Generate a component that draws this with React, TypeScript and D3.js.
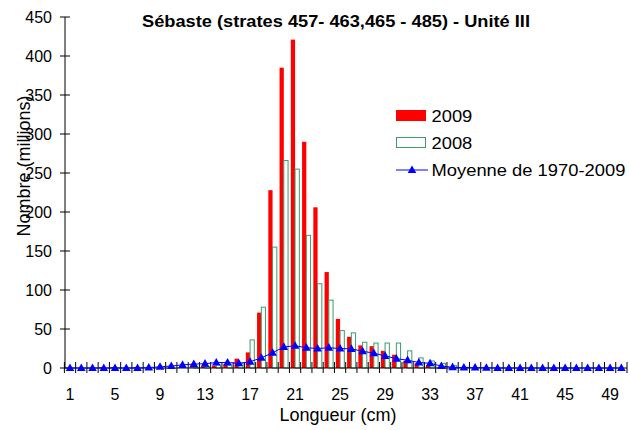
import React from "react";
import * as d3 from "d3";

const categories: number[] = d3.range(1, 51);
const tickLabels: number[] = [1, 5, 9, 13, 17, 21, 25, 29, 33, 37, 41, 45, 49];
const yTicks: number[] = [0, 50, 100, 150, 200, 250, 300, 350, 400, 450];

const values2009: number[] = [
  0, 0, 0, 1, 1, 0, 1, 0, 0, 0,
  0.5, 1, 2, 3, 5, 12, 20, 71, 228, 385,
  421, 290, 206, 123, 63, 40, 29, 28, 22, 17,
  9, 6, 3, 1, 0.5, 0, 0, 0, 0, 0,
  0, 0, 0, 0, 0, 0, 0, 0, 0, 0,
];
const values2008: number[] = [
  0, 0, 0, 0, 0, 0, 0, 0, 0, 0,
  0, 1, 2, 4, 4, 6, 36, 78, 155, 266,
  255, 170, 108, 87, 48, 45, 33, 32, 32, 32,
  22, 13, 9, 6, 3, 1, 0, 0, 0, 0,
  0, 0, 0, 0, 0, 0, 0, 0, 0, 0,
];
const average: number[] = [
  0, 0, 0, 0, 0, 0, 0, 0.5, 1.5, 2.5,
  4, 5, 5.5, 7, 7, 6, 8, 13, 19.5, 27,
  28.5, 26, 25, 26, 25, 24.5, 21.5, 19, 15.5, 12,
  10, 7, 6, 2.5, 1, 0.5, 0.5, 0.3, 0, 0,
  0, 0, 0, 0, 0, 0, 0, 0, 0, 0,
];

const seriesNames = ["2009", "2008"];
const title = "Sébaste (strates 457- 463,465 - 485) - Unité III";
const xTitle = "Longueur (cm)";
const yTitle = "Nombre (millions)";
const avgName = "Moyenne de 1970-2009";

const W = 629;
const H = 430;
const X0 = 64.4;
const X1 = 627;
const Y0 = 368;
const Y1 = 17;

const RED = "#ff0000";
const GREEN = "#3c9c6c";
const BLUE = "#0000ff";
const FONT = "Arial, 'Liberation Sans', sans-serif";

const tri = "M0,-4.6 L4.3,3 L-4.3,3 Z";

export default function App() {
  const x = d3
    .scaleBand<number>()
    .domain(categories)
    .range([X0, X1])
    .paddingInner(0.245)
    .paddingOuter(0.1225);
  const sub = d3.scaleBand<string>().domain(seriesNames).range([0, x.bandwidth()]);
  const y = d3.scaleLinear().domain([0, 450]).range([Y0, Y1]);
  const step = x.step();
  const cx = (c: number) => (x(c) as number) + x.bandwidth() / 2;

  const line = d3
    .line<number>()
    .x((_, i) => cx(categories[i]))
    .y((d) => y(d));

  const boundaries = d3.range(0, categories.length + 1).map((k) => X0 + k * step);

  return (
    <svg
      width={W}
      height={H}
      style={{ position: "absolute", left: 0, top: 0, background: "#fff" }}
      fontFamily={FONT}
    >
      <rect width={W} height={H} fill="#fff" />
      {/* title */}
      <text
        x={336}
        y={27}
        textAnchor="middle"
        fontSize={16}
        fontWeight="bold"
        textLength={388}
        lengthAdjust="spacingAndGlyphs"
      >
        {title}
      </text>

      {/* bars 2009 */}
      {categories.map((c, i) => {
        const h = Y0 - y(values2009[i]);
        if (h <= 0) return null;
        return (
          <rect
            key={"r" + c}
            x={(x(c) as number) + (sub("2009") as number)}
            y={y(values2009[i])}
            width={sub.bandwidth()}
            height={h}
            fill={RED}
          />
        );
      })}
      {/* bars 2008 */}
      {categories.map((c, i) => {
        const h = Y0 - y(values2008[i]);
        if (h <= 0) return null;
        return (
          <rect
            key={"g" + c}
            x={(x(c) as number) + (sub("2008") as number)}
            y={y(values2008[i])}
            width={sub.bandwidth()}
            height={h}
            fill="#fff"
            stroke={GREEN}
            strokeWidth={1}
          />
        );
      })}

      {/* y axis */}
      <line x1={65} x2={65} y1={Y1} y2={Y0} stroke="#000" strokeWidth={1} />
      {yTicks.map((t) => (
        <g key={"yt" + t}>
          <line x1={60} x2={70} y1={y(t)} y2={y(t)} stroke="#000" strokeWidth={1} />
          <text x={52} y={y(t)} dy="0.35em" textAnchor="end" fontSize={16}>
            {t}
          </text>
        </g>
      ))}

      {/* x axis */}
      <line x1={X0} x2={X1} y1={Y0} y2={Y0} stroke="#000" strokeWidth={1} />
      {boundaries.map((b, k) => (
        <line key={"xt" + k} x1={b} x2={b} y1={Y0 - 6} y2={Y0 + 5} stroke="#000" strokeWidth={1} />
      ))}
      {tickLabels.map((t) => (
        <text key={"xl" + t} x={cx(t)} y={399.5} textAnchor="middle" fontSize={16}>
          {t}
        </text>
      ))}

      {/* average line */}
      <path d={line(average) || ""} fill="none" stroke={BLUE} strokeWidth={1} />
      {categories.map((c, i) => (
        <path key={"m" + c} d={tri} transform={`translate(${cx(c)},${y(average[i])})`} fill={BLUE} />
      ))}

      {/* axis titles */}
      <text x={338} y={421} textAnchor="middle" fontSize={18}>
        {xTitle}
      </text>
      <text transform="translate(30,166) rotate(-90)" textAnchor="middle" fontSize={18}>
        {yTitle}
      </text>

      {/* legend */}
      <rect x={396} y={110} width={30} height={11} fill={RED} />
      <text transform="translate(431.5,121.5) scale(1.08,1)" fontSize={17}>
        {seriesNames[0]}
      </text>
      <rect x={396.5} y={137.5} width={29} height={10} fill="#fff" stroke={GREEN} strokeWidth={1} />
      <text transform="translate(431.5,149) scale(1.08,1)" fontSize={17}>
        {seriesNames[1]}
      </text>
      <line x1={396} x2={428} y1={170} y2={170} stroke={BLUE} strokeWidth={1} />
      <path d={tri} transform="translate(412,170)" fill={BLUE} />
      <text transform="translate(431.5,175.5) scale(1.08,1)" fontSize={17}>
        {avgName}
      </text>
    </svg>
  );
}
